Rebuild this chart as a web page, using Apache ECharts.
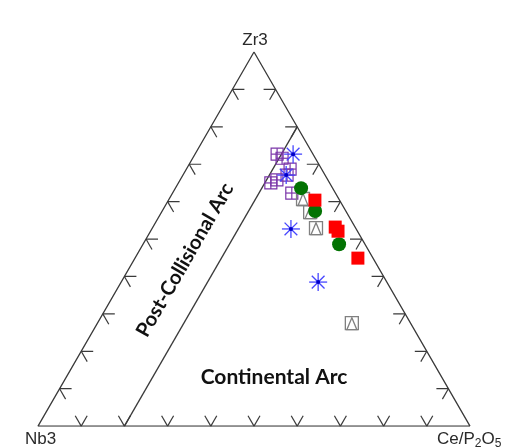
<!DOCTYPE html>
<html><head><meta charset="utf-8">
<script src="https://cdn.jsdelivr.net/npm/echarts@6/dist/echarts.min.js"></script>
<style>html,body{margin:0;padding:0;background:#fff}#c{width:516px;height:447px}</style>
</head><body><div id="c"></div>
<script>
// Ternary compositions [Zr3, Nb3, Ce/P2O5] in percent
const purpleSamples = [[72.7,8.3,19.0],[71.6,7.7,20.7],[68.7,7.3,24.0],[67.1,8.8,24.1],[65.0,13.6,21.4],[65.8,11.8,22.4],[62.3,10.1,27.6]];
const blueSamples   = [[72.7,4.6,22.7],[67.1,9.0,23.9],[52.7,15.1,32.2],[38.5,15.9,45.6]];
const graySamples   = [[60.7,8.3,31.0],[57.2,8.4,34.4],[52.9,9.2,37.9],[27.5,13.6,58.9]];
const greenSamples  = [[63.6,7.3,29.1],[57.5,7.1,35.4],[48.6,6.0,45.4]];
const redSamples    = [[60.4,5.7,33.9],[53.2,4.6,42.2],[52.1,4.5,43.4],[44.9,3.5,51.6]];
// field boundary: Ce/P2O5 = 20 %
const boundaryCe = 20;
const tickPercents = [10,20,30,40,50,60,70,80,90];
const vertexLabels = ['Zr3','Nb3','Ce/P2O5'];
const regionLabels = ['Post-Collisional Arc','Continental Arc'];

const H = Math.sqrt(3)/2;
function toXY(t){ // t = [Zr, Nb, Ce]
  const s = t[0]+t[1]+t[2];
  const zr = t[0]/s, ce = t[2]/s;
  return [ce + zr/2, zr*H];
}

const outline = [[0,0,100],[0,100,0],[100,0,0],[0,0,100]].map(toXY);
const boundary = [[0,100-boundaryCe,boundaryCe],[100-boundaryCe,0,boundaryCe]].map(toXY);
const ticks = [];
tickPercents.forEach(p => {
  ticks.push(toXY([0,100-p,p]).concat([0]));      // bottom edge
  ticks.push(toXY([p,100-p,0]).concat([1]));      // left edge
  ticks.push(toXY([100-p,0,p]).concat([2]));      // right edge
});

const EDGE = '#3a3a3a';
function tickRender(params, api){
  const p = api.coord([api.value(0), api.value(1)]);
  const e = api.value(2);
  const normals = [[0,-1],[0.8660,0.5],[-0.8660,0.5]];
  const n = normals[e], L = 12;
  const rot = (v,a)=>[v[0]*Math.cos(a)-v[1]*Math.sin(a), v[0]*Math.sin(a)+v[1]*Math.cos(a)];
  const a1 = rot(n, Math.PI/6), a2 = rot(n, -Math.PI/6);
  const st = {stroke:EDGE, lineWidth:1.2};
  return {type:'group', children:[
    {type:'line', shape:{x1:p[0],y1:p[1],x2:p[0]+a1[0]*L,y2:p[1]+a1[1]*L}, style:st},
    {type:'line', shape:{x1:p[0],y1:p[1],x2:p[0]+a2[0]*L,y2:p[1]+a2[1]*L}, style:st}
  ]};
}

function markerSeries(name, samples, draw){
  return {type:'custom', name, coordinateSystem:'cartesian2d', data: samples.map(toXY),
    renderItem:(params, api)=>{
      const p = api.coord([api.value(0), api.value(1)]);
      return {type:'group', x:p[0], y:p[1], children: draw()};
    }, z:5};
}
const purpleDraw = ()=>{const s=6, c='#7a35a8', st={stroke:c,lineWidth:1.2,fill:null};
  return [{type:'rect',shape:{x:-s,y:-s,width:2*s,height:2*s},style:st},
    {type:'line',shape:{x1:0,y1:-s,x2:0,y2:s},style:st},
    {type:'line',shape:{x1:-s,y1:0,x2:s,y2:0},style:st}];};
const grayDraw = ()=>{const s=6.5, st={stroke:'#808080',lineWidth:1.3,fill:null};
  return [{type:'rect',shape:{x:-s,y:-s,width:2*s,height:2*s},style:st},
    {type:'polygon',shape:{points:[[0,-s+1],[-s+1.5,s],[s-1.5,s]]},style:st}];};
const blueDraw = ()=>{const r=9, st={stroke:'#4646ff',lineWidth:1.3};
  const ch=[];
  for(let i=0;i<4;i++){const a=i*Math.PI/4;ch.push({type:'line',shape:{x1:-r*Math.cos(a),y1:-r*Math.sin(a),x2:r*Math.cos(a),y2:r*Math.sin(a)},style:st});}
  ch.push({type:'circle',shape:{cx:0,cy:0,r:2},style:{fill:'#0000c8'}});
  return ch;};
const greenDraw = ()=>[{type:'circle',shape:{cx:0,cy:0,r:7},style:{fill:'#037303'}}];
const redDraw = ()=>{const s=6.5;return [{type:'rect',shape:{x:-s,y:-s,width:2*s,height:2*s},style:{fill:'#ff0000'}}];};

const chart = echarts.init(document.getElementById('c'), null, {renderer:'canvas'});
chart.setOption({
  animation:false,
  backgroundColor:'#fff',
  grid:{left:38, top:52, width:432, height:374.1},
  xAxis:{type:'value', min:0, max:1, show:false},
  yAxis:{type:'value', min:0, max:H, show:false},
  series:[
    {type:'line', data:outline, symbol:'none', lineStyle:{color:EDGE, width:1.3}, z:3},
    {type:'line', data:boundary, symbol:'none', lineStyle:{color:EDGE, width:1.3}, z:3},
    {type:'custom', coordinateSystem:'cartesian2d', data:ticks, renderItem:tickRender, z:3},
    markerSeries('purple', purpleSamples, purpleDraw),
    markerSeries('gray', graySamples, grayDraw),
    markerSeries('blue', blueSamples, blueDraw),
    markerSeries('green', greenSamples, greenDraw),
    markerSeries('red', redSamples, redDraw)
  ],
  graphic:[
    {type:'text', x:255, y:40, style:{text:vertexLabels[0], font:'17px "Liberation Sans"', fill:'#2a2a2a', align:'center', verticalAlign:'middle'}},
    {type:'text', x:25, y:439, style:{text:vertexLabels[1], font:'17px "Liberation Sans"', fill:'#2a2a2a', align:'left', verticalAlign:'middle'}},
    {type:'text', x:437, y:439, style:{text:'Ce/P{s|2}O{s|5}', rich:{s:{fontSize:12, fontFamily:'Liberation Sans', fill:'#2a2a2a', verticalAlign:'bottom', padding:[9,0,0,0]}}, font:'17px "Liberation Sans"', fill:'#2a2a2a', align:'left', verticalAlign:'middle'}},
    {type:'text', x:185, y:260, rotation:Math.PI/3, style:{text:regionLabels[0], font:'bold 20px Lato', fill:'#111', align:'center', verticalAlign:'middle'}},
    {type:'text', x:274, y:377, style:{text:regionLabels[1], font:'bold 21px Lato', fill:'#111', align:'center', verticalAlign:'middle'}}
  ]
});
</script></body></html>
